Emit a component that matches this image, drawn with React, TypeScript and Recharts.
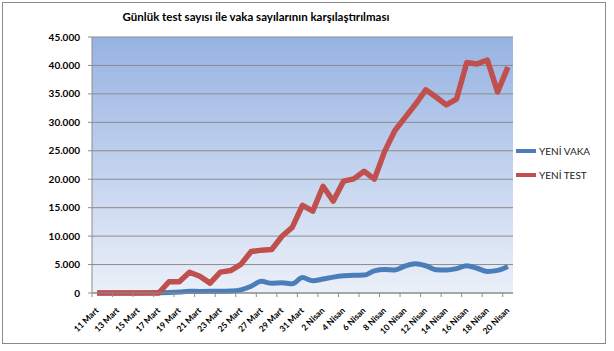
import { LineChart, Line, XAxis, YAxis, CartesianGrid, Legend } from "recharts";

const dates = [
  "11 Mart", "12 Mart", "13 Mart", "14 Mart", "15 Mart", "16 Mart", "17 Mart",
  "18 Mart", "19 Mart", "20 Mart", "21 Mart", "22 Mart", "23 Mart", "24 Mart",
  "25 Mart", "26 Mart", "27 Mart", "28 Mart", "29 Mart", "30 Mart", "31 Mart",
  "1 Nisan", "2 Nisan", "3 Nisan", "4 Nisan", "5 Nisan", "6 Nisan", "7 Nisan",
  "8 Nisan", "9 Nisan", "10 Nisan", "11 Nisan", "12 Nisan", "13 Nisan", "14 Nisan",
  "15 Nisan", "16 Nisan", "17 Nisan", "18 Nisan", "19 Nisan", "20 Nisan",
];

const yeniVaka = [
  1, 0, 4, 1, 12, 29, 51, 93, 168, 311, 277, 289, 293, 343, 561, 1196, 2069,
  1704, 1815, 1610, 2704, 2148, 2456, 2786, 3013, 3135, 3148, 3892, 4117, 4056,
  4747, 5138, 4789, 4093, 4062, 4281, 4801, 4353, 3783, 3977, 4674,
];

const yeniTest = [
  0, 0, 0, 0, 0, 0, 0, 1981, 1981, 3656, 2952, 1738, 3672, 3952, 5035, 7286,
  7533, 7641, 9982, 11535, 15422, 14396, 18757, 16160, 19664, 20065, 21400,
  20023, 24900, 28578, 30864, 33170, 35720, 34456, 33070, 34090, 40520, 40270,
  40962, 35344, 39703,
];

const yTicks = [0, 5000, 10000, 15000, 20000, 25000, 30000, 35000, 40000, 45000];

const seriesNames = ["YENİ VAKA", "YENİ TEST"];
const seriesColors = ["#4a7ebb", "#c0504d"];

const data = dates.map((d, i) => ({
  date: d,
  [seriesNames[0]]: yeniVaka[i],
  [seriesNames[1]]: yeniTest[i],
}));

const FONT = "Lato, 'Noto Sans', sans-serif";
const PLOT_LEFT = 92;
const PLOT_RIGHT = 513;
const HALF_BAND = (PLOT_RIGHT - PLOT_LEFT) / dates.length / 2;

const formatThousands = (v: number) =>
  String(v).replace(/\B(?=(\d{3})+(?!\d))/g, ".");

function DateTick({ x, y, payload }: any) {
  return (
    <g transform={`translate(${x},${y})`}>
      <line x1={-HALF_BAND} x2={-HALF_BAND} y1={0} y2={4} stroke="#8c8c8c" />
      <text
        x={2}
        y={18}
        textAnchor="end"
        transform="rotate(-45 2 18)"
        fontSize={8.5}
        fontWeight="bold"
        fontFamily={FONT}
        fill="#000"
      >
        {payload.value}
      </text>
    </g>
  );
}

function LegendBox() {
  return (
    <div style={{ fontFamily: FONT, fontSize: 10, color: "#222" }}>
      {seriesNames.map((name, i) => (
        <div key={name} style={{ display: "flex", alignItems: "center", height: 24 }}>
          <span
            style={{
              display: "inline-block",
              width: 20,
              height: 4,
              background: seriesColors[i],
              marginRight: 3,
            }}
          />
          {name}
        </div>
      ))}
    </div>
  );
}

export default function App() {
  return (
    <div
      style={{
        position: "absolute",
        left: 0,
        top: 0,
        width: 614,
        height: 351,
        background: "#fff",
        fontFamily: FONT,
      }}
    >
      <div
        style={{
          position: "absolute",
          left: 2,
          top: 2,
          width: 604,
          height: 342,
          boxSizing: "border-box",
          border: "1px solid #8a8a8a",
          pointerEvents: "none",
        }}
      />
      <LineChart
        width={614}
        height={351}
        data={data}
        margin={{ top: 37, right: 11, bottom: 8, left: 0 }}
      >
        <defs>
          <linearGradient id="plotBg" x1="0" y1="0" x2="0" y2="1">
            <stop offset="0%" stopColor="#97b3e2" />
            <stop offset="100%" stopColor="#ebf0f9" />
          </linearGradient>
        </defs>
        <text
          x={256}
          y={21}
          textAnchor="middle"
          fontSize={11.5}
          fontWeight="bold"
          fontFamily={FONT}
          fill="#000"
        >
          Günlük test sayısı ile vaka sayılarının karşılaştırılması
        </text>
        <CartesianGrid
          vertical={false}
          fill="url(#plotBg)"
          fillOpacity={1}
          stroke="#8c8c8c"
        />
        <XAxis
          dataKey="date"
          scale="band"
          interval={1}
          height={50}
          tickSize={0}
          tickMargin={0}
          tickLine={false}
          axisLine={{ stroke: "#8c8c8c" }}
          tick={<DateTick />}
        />
        <YAxis
          width={92}
          domain={[0, 45000]}
          ticks={yTicks}
          tickFormatter={formatThousands}
          tickSize={4}
          tickMargin={8}
          tickLine={{ stroke: "#8c8c8c" }}
          axisLine={{ stroke: "#8c8c8c" }}
          tick={{ fontSize: 10, fontWeight: "bold", fill: "#000", fontFamily: FONT }}
        />
        <Legend
          layout="vertical"
          align="right"
          verticalAlign="top"
          wrapperStyle={{ top: 139, left: 516, width: 90 }}
          content={() => <LegendBox />}
        />
        <Line
          type="monotone"
          dataKey={seriesNames[0]}
          stroke={seriesColors[0]}
          strokeWidth={5}
          dot={false}
          isAnimationActive={false}
        />
        <Line
          type="linear"
          dataKey={seriesNames[1]}
          stroke={seriesColors[1]}
          strokeWidth={5.5}
          strokeLinejoin="round"
          dot={false}
          isAnimationActive={false}
        />
      </LineChart>
    </div>
  );
}
